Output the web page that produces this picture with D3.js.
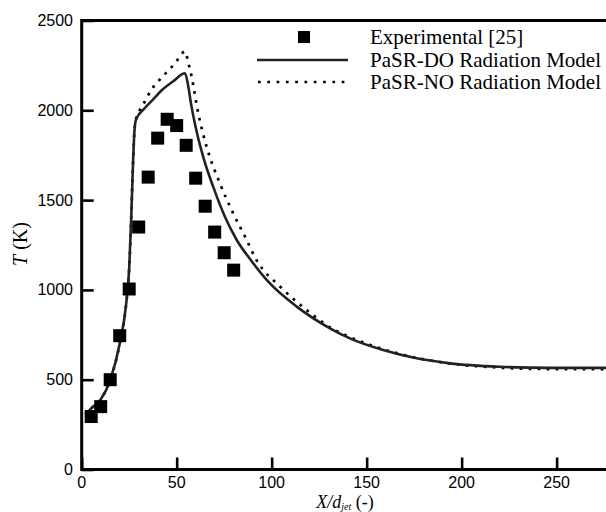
<!DOCTYPE html>
<html>
<head>
<meta charset="utf-8">
<script src="https://cdn.jsdelivr.net/npm/d3@7"></script>
<style>
  body { margin: 0; background: #fff; }
  svg { display: block; }
</style>
</head>
<body>
<svg width="606" height="512"></svg>
<script>
// experimental points
let xExp = [5, 10, 15, 20, 25, 30, 35, 40, 45, 50, 55, 60, 65, 70, 75, 80];
let tExp = [295, 350, 500, 745, 1005, 1350, 1628, 1845, 1950, 1915, 1805, 1622, 1466, 1322, 1207, 1110];

// PaSR-DO radiation model (solid)
let xDO = [2, 5, 10, 15, 20, 23.5, 25, 26, 27, 27.8, 28.6, 33, 38, 42, 48, 54.4, 56, 57.5, 59.6, 64, 69.3, 75.4, 81.6, 88.6, 99.1, 113.2, 130.7, 141.2, 158.7, 176.3, 193.8, 220, 246.5, 276];
let tDO = [305, 340, 390, 498, 700, 930, 1120, 1380, 1700, 1890, 1948, 2010, 2065, 2110, 2160, 2206, 2140, 2040, 1925, 1739, 1572, 1407, 1278, 1172, 1036, 907, 786, 730, 665, 619, 591, 572, 566, 566];

// PaSR-NO radiation model (dotted)
let xNO = [2, 5, 10, 15, 20, 23.5, 25, 26, 27, 27.8, 28.6, 30.3, 33, 37, 41, 45, 49, 54.5, 56, 57.9, 61.4, 65.8, 72.8, 79.8, 86, 92, 104.4, 118.4, 131.6, 141, 158, 176, 194, 220, 246, 276];
let tNO = [305, 340, 390, 498, 700, 930, 1120, 1380, 1700, 1890, 1950, 1995, 2045, 2120, 2170, 2215, 2260, 2328, 2270, 2186, 1981, 1796, 1592, 1425, 1296, 1166, 1019, 888, 786, 738, 672, 622, 590, 567, 559, 558];

let xTicks = [0, 50, 100, 150, 200, 250];
let yTicks = [0, 500, 1000, 1500, 2000, 2500];

let svg = d3.select("svg");
let plotLeft = 81.7, plotRight = 606, plotTop = 20.5, plotBottom = 469.5;

let xScale = d3.scaleLinear().domain([0, 276]).range([plotLeft, plotRight]);
let yScale = d3.scaleLinear().domain([0, 2500]).range([plotBottom, plotTop]);

svg.append("clipPath").attr("id", "plot")
    .append("rect")
    .attr("x", plotLeft).attr("y", plotTop)
    .attr("width", plotRight - plotLeft).attr("height", plotBottom - plotTop);

let plot = svg.append("g").attr("clip-path", "url(#plot)");

let line = d3.line()
    .x(function (d) { return xScale(d[0]); })
    .y(function (d) { return yScale(d[1]); })
    .curve(d3.curveMonotoneX);

plot.append("path")
    .datum(d3.zip(xNO, tNO))
    .attr("fill", "none")
    .attr("stroke", "#000")
    .attr("stroke-width", 2.7)
    .attr("stroke-dasharray", "2.7,6.3")
    .attr("d", line);

plot.append("path")
    .datum(d3.zip(xDO, tDO))
    .attr("fill", "none")
    .attr("stroke", "#222")
    .attr("stroke-width", 2.6)
    .attr("d", line);

let sq = 13;
plot.selectAll(".exp")
    .data(d3.zip(xExp, tExp))
    .enter().append("rect")
    .attr("class", "exp")
    .attr("x", function (d) { return xScale(d[0]) - sq / 2; })
    .attr("y", function (d) { return yScale(d[1]) - sq / 2; })
    .attr("width", sq)
    .attr("height", sq)
    .attr("fill", "#000");

// axes with inward ticks
let xAxis = svg.append("g")
    .attr("transform", "translate(0," + plotBottom + ")")
    .call(d3.axisTop(xScale).tickValues(xTicks).tickSize(12).tickFormat(""));
let yAxis = svg.append("g")
    .attr("transform", "translate(" + plotLeft + ",0)")
    .call(d3.axisRight(yScale).tickValues(yTicks).tickSize(12).tickFormat(""));

[xAxis, yAxis].forEach(function (a) {
    a.select(".domain").remove();
    a.selectAll("line").attr("stroke", "#000").attr("stroke-width", 2.6);
});

// frame
svg.append("path")
    .attr("d", "M" + plotRight + "," + plotTop + "H" + plotLeft + "V" + plotBottom + "H" + plotRight)
    .attr("fill", "none")
    .attr("stroke", "#000")
    .attr("stroke-width", 3);

let sans = "'Liberation Sans', Arial, sans-serif";
let serif = "'Liberation Serif', 'Times New Roman', serif";

svg.selectAll(".xlab")
    .data(xTicks)
    .enter().append("text")
    .attr("x", function (d) { return xScale(d); })
    .attr("y", 488)
    .attr("text-anchor", "middle")
    .attr("font-family", sans)
    .attr("font-size", 16)
    .text(function (d) { return d; });

svg.selectAll(".ylab")
    .data(yTicks)
    .enter().append("text")
    .attr("x", 73)
    .attr("y", function (d) { return yScale(d) + 5.5; })
    .attr("text-anchor", "end")
    .attr("font-family", sans)
    .attr("font-size", 16)
    .text(function (d) { return d; });

// axis titles
let xt = svg.append("text")
    .attr("x", 345)
    .attr("y", 508)
    .attr("text-anchor", "middle")
    .attr("font-family", serif)
    .attr("font-size", 18);
xt.append("tspan").attr("font-style", "italic").text("X/d");
xt.append("tspan").attr("font-style", "italic").attr("font-size", 10).attr("dy", 1.5).text("jet");
xt.append("tspan").attr("dy", -1.5).text(" (-)");

let yt = svg.append("text")
    .attr("transform", "translate(27,244) rotate(-90)")
    .attr("text-anchor", "middle")
    .attr("font-family", serif)
    .attr("font-size", 20);
yt.append("tspan").attr("font-style", "italic").text("T");
yt.append("tspan").text(" (K)");

// legend
let legend = svg.append("g");
let legY = [37, 60, 82];
let legText = ["Experimental [25]", "PaSR-DO Radiation Model", "PaSR-NO Radiation Model"];

legend.append("rect")
    .attr("x", 304 - 6).attr("y", legY[0] - 6)
    .attr("width", 12).attr("height", 12)
    .attr("fill", "#000");
legend.append("line")
    .attr("x1", 257).attr("x2", 348)
    .attr("y1", legY[1]).attr("y2", legY[1])
    .attr("stroke", "#222").attr("stroke-width", 2.6);
legend.append("line")
    .attr("x1", 258).attr("x2", 348)
    .attr("y1", legY[2]).attr("y2", legY[2])
    .attr("stroke", "#000").attr("stroke-width", 2.7)
    .attr("stroke-dasharray", "2.7,6.6");

legend.selectAll(".lt")
    .data(legText)
    .enter().append("text")
    .attr("x", 370)
    .attr("y", function (d, i) { return legY[i] + 7; })
    .attr("font-family", serif)
    .attr("font-size", 21)
    .text(function (d) { return d; });
</script>
</body>
</html>
